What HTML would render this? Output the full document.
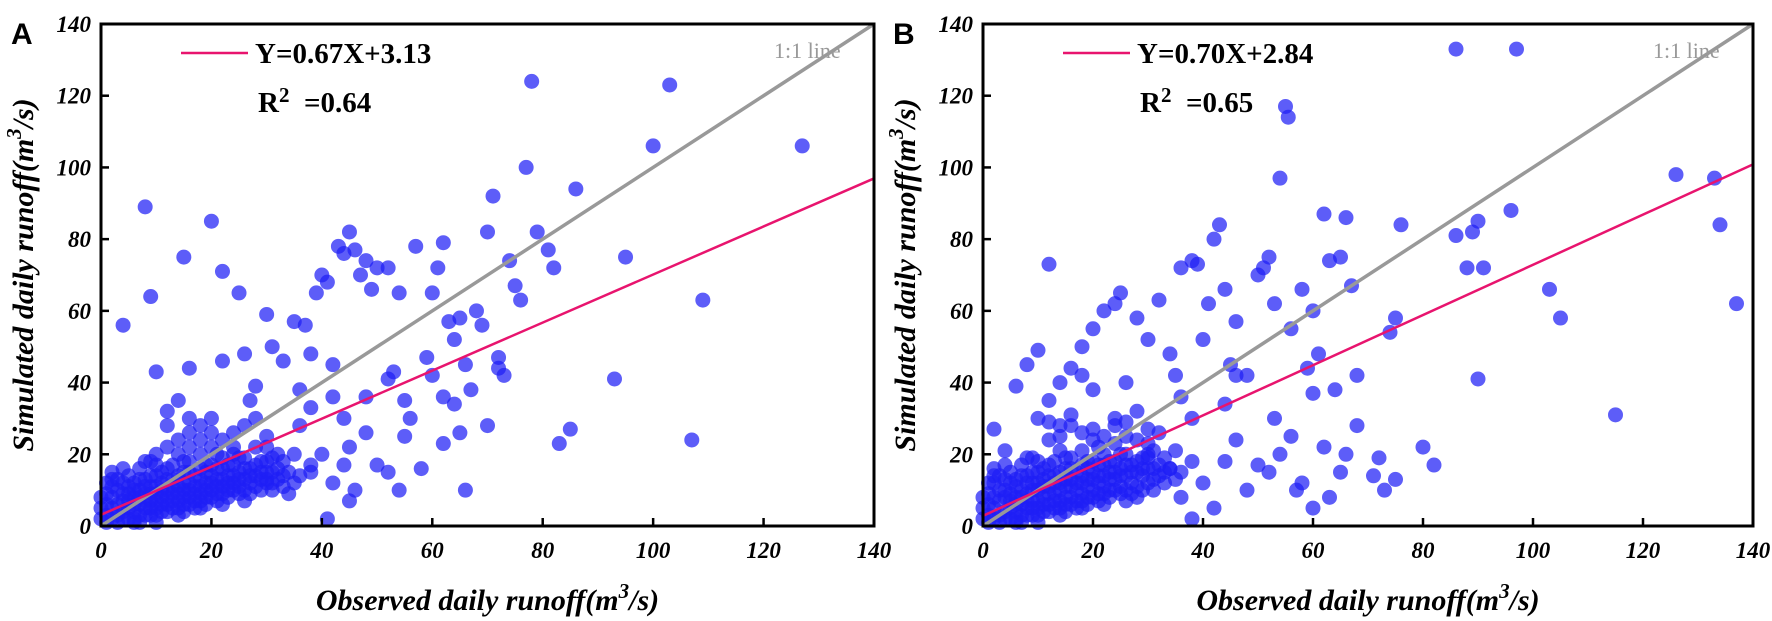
<!DOCTYPE html>
<html><head><meta charset="utf-8"><style>
body{margin:0;background:#fff;}
svg{display:block;font-family:"Liberation Serif",serif;}
</style></head><body>
<svg id="chart" width="1772" height="621" viewBox="0 0 1772 621"></svg>
<script>
const tickValues=[0,20,40,60,80,100,120,140];
const fitA={slope:0.67,intercept:3.13};
const fitB={slope:0.70,intercept:2.84};
const obsA=[4,8,9,10,15,16,20,22,25,26,28,30,31,33,35,37,38,39,40,41,42,43,44,45,46,47,48,49,50,52,53,54,55,57,60,61,62,63,64,65,66,68,69,70,71,72,73,74,75,76,77,78,79,81,82,83,85,86,93,95,100,103,107,109,127,66,70,62,60,58,55,52,50,48,45,42,40,38,36,34,32,46,44,64,65,52,48,44,38,36,42,45,24,27,22,18,20,14,12,16,10,30,41,54,62,67,72,56,59,
0,0,0,1,1,1,2,2,2,2,3,3,3,4,4,4,5,5,5,5,6,6,6,7,7,7,7,8,8,8,9,9,9,9,10,10,10,11,11,11,12,12,12,13,13,13,14,14,14,15,15,15,16,16,16,17,17,18,18,18,19,19,19,20,20,21,21,21,22,22,23,23,24,24,25,25,26,26,27,27,28,28,29,29,30,31,31,32,33,26,22,18,14,10,6,30,28,24,20,16,12,8,4,2];
const simA=[56,89,64,43,75,44,85,71,65,48,39,59,50,46,57,56,48,65,70,68,45,78,76,82,77,70,74,66,72,72,43,65,35,78,65,72,79,57,52,58,45,60,56,82,92,47,42,74,67,63,100,124,82,77,72,23,27,94,41,75,106,123,24,63,106,10,28,23,42,16,25,15,17,26,22,12,20,15,28,9,20,10,17,34,26,41,36,30,33,38,36,7,20,35,46,28,30,35,32,22,20,13,2,10,36,38,44,30,47,
2,5,8,3,6,9,2,5,8,11,3,6,10,4,7,12,2,5,9,14,4,8,12,3,6,10,16,5,9,13,3,7,11,18,5,9,14,4,8,12,6,10,16,5,9,13,7,11,20,6,10,15,8,12,18,7,11,9,13,24,8,12,17,10,14,9,13,20,11,16,10,14,12,17,11,15,13,19,12,16,14,22,13,18,15,12,19,16,14,7,6,5,3,1,1,25,30,26,22,26,22,18,16,15];
const obsB=[2,4,6,8,10,12,14,16,18,20,22,24,25,26,28,30,32,34,35,36,38,39,40,41,42,43,44,45,46,50,51,52,53,54,55,55.5,56,58,60,62,63,64,65,66,67,68,72,75,76,74,75,80,82,86,86,88,89,90,90,91,96,97,103,105,115,126,133,134,137,38,36,40,42,44,46,48,50,52,54,56,58,60,62,63,65,60,53,48,44,38,36,32,34,28,30,26,24,20,18,14,12,10,57,66,68,59,61,46,71,73,
0,0,0,1,1,1,2,2,2,2,3,3,3,4,4,4,5,5,5,5,6,6,6,7,7,7,7,8,8,8,9,9,9,9,10,10,10,11,11,11,12,12,12,13,13,13,14,14,14,15,15,15,16,16,16,17,17,18,18,18,19,19,19,20,20,21,21,21,22,22,23,23,24,24,25,25,26,26,27,27,28,28,29,29,30,31,31,32,33,26,22,18,14,10,6,30,28,24,20,16,12,8,4,2];
const simB=[27,21,39,45,49,73,40,44,50,55,60,62,65,40,58,52,63,48,42,72,74,73,52,62,80,84,66,45,57,70,72,75,62,97,117,114,55,66,60,87,74,38,75,86,67,42,19,58,84,54,13,22,17,133,81,72,82,85,41,72,88,133,66,58,31,98,97,84,62,2,8,12,5,18,24,10,17,15,20,25,12,37,22,8,15,5,30,42,34,30,36,26,16,8,20,25,30,38,42,28,35,30,10,20,28,44,48,42,14,10,
2,5,8,3,6,9,2,5,8,12,3,7,10,4,8,13,2,5,9,15,4,8,13,3,6,10,17,5,9,14,3,7,12,19,5,10,15,4,8,13,6,11,17,5,9,14,7,12,21,6,11,16,8,13,19,7,12,9,14,26,8,13,18,10,15,9,14,22,11,17,10,15,13,18,11,16,14,20,12,17,15,24,14,19,16,13,21,17,15,7,6,5,3,1,1,27,32,28,24,28,24,19,17,16];
const clusterObsA=[1,1,2,3,3,4,4,5,5,6,6,6,7,7,7,8,8,8,9,9,9,10,10,10,10,11,11,11,12,12,12,13,13,13,14,14,14,15,15,15,15,16,16,16,17,17,17,18,18,18,19,19,19,20,20,20,21,21,21,22,22,22,23,23,23,24,24,25,25,25,26,26,27,27,28,28,29,29,30,30,31,31,32,33,34,35,36,24,22,20,18,14,16,12,26,30,33,35,38];
const clusterSimA=[1,12,13,1,13,2,9,7,11,2,6,10,1,8,13,3,7,11,5,9,14,3,7,11,17,6,10,15,4,8,13,7,11,17,5,9,14,4,8,12,18,6,10,15,5,9,14,7,11,16,6,10,15,8,12,17,7,11,16,9,13,19,8,12,17,10,14,9,13,19,10,16,9,14,11,17,10,15,12,18,10,15,13,11,15,12,14,22,24,26,20,24,30,28,28,22,18,20,17];
const clusterObsB=[1,1,2,3,3,4,4,5,5,6,6,6,7,7,7,8,8,8,9,9,9,10,10,10,10,11,11,11,12,12,12,13,13,13,14,14,14,15,15,15,15,16,16,16,17,17,17,18,18,18,19,19,19,20,20,20,21,21,21,22,22,22,23,23,23,24,24,25,25,25,26,26,27,27,28,28,29,29,30,30,31,31,32,33,34,35,36,24,22,20,18,14,16,12,26,30,33,35,38];
const clusterSimB=[1,12,14,1,14,2,10,7,12,2,6,11,1,8,14,3,7,12,5,10,15,3,7,12,18,6,11,16,4,9,14,7,12,18,5,10,15,4,8,13,19,6,11,16,5,10,15,7,12,17,6,11,16,8,13,18,7,12,17,9,14,20,8,13,18,10,15,9,14,20,10,17,9,15,11,18,10,16,12,19,10,16,14,12,16,13,15,23,25,27,21,25,31,29,29,23,19,21,18];

const NS="http://www.w3.org/2000/svg";
const svg=document.getElementById('chart');
function mk(tag,attrs,parent,text){const e=document.createElementNS(NS,tag);for(const k in attrs)e.setAttribute(k,attrs[k]);if(text!==undefined)e.textContent=text;(parent||svg).appendChild(e);return e;}

function panel(key,L,R,obs,sim,cObs,cSim,fit,label,eq,r2){
  const T=24,B=526,max=140;
  const sx=v=>L+(R-L)*v/max, sy=v=>B-(B-T)*v/max;
  const g=mk('g',{});
  
  
  const pts=mk('g',{},g);
  
  
  const allX=obs.concat(cObs), allY=sim.concat(cSim);
  for(let i=0;i<allX.length;i++){
    const c=mk('circle',{cx:sx(allX[i]),cy:sy(allY[i]),r:7.5,fill:'rgba(30,30,245,0.72)'},pts);
    
    
  }
  const one=mk('line',{x1:sx(0),y1:sy(0),x2:sx(140),y2:sy(140),stroke:'#999',"stroke-width":3.5},g);
  
  
  const fl=mk('line',{x1:sx(0),y1:sy(fit.intercept),x2:sx(140),y2:sy(fit.slope*140+fit.intercept),stroke:'#e8146e',"stroke-width":2.5},g);
  
  
  const fr=mk('rect',{x:L,y:T,width:R-L,height:B-T,fill:'none',stroke:'#000',"stroke-width":3},g);
  
  
  tickValues.forEach(v=>{
    mk('line',{x1:sx(v),y1:B,x2:sx(v),y2:B-8,stroke:'#000',"stroke-width":2.5},g);
    mk('line',{x1:L,y1:sy(v),x2:L+8,y2:sy(v),stroke:'#000',"stroke-width":2.5},g);
    const xt=mk('text',{x:sx(v),y:B+32,"text-anchor":"middle","font-size":23,"font-weight":"bold","font-style":"italic"},g,String(v));
    
    
    const yt=mk('text',{x:L-10,y:sy(v)+8,"text-anchor":"end","font-size":23,"font-weight":"bold","font-style":"italic"},g,String(v));
    
    
  });
  const lg=mk('line',{x1:L+80,y1:53,x2:L+147,y2:53,stroke:'#e8146e',"stroke-width":2.5},g);
  
  
  const et=mk('text',{x:L+154,y:63,"font-size":29,"font-weight":"bold"},g,eq);
  
  
  const rt=mk('text',{x:L+157,y:112,"font-size":29,"font-weight":"bold"},g);
  
  
  mk('tspan',{},rt,'R');mk('tspan',{dy:-10,"font-size":21},rt,'2');mk('tspan',{dy:10},rt,'\u00a0\u00a0=' + r2);
  const ot=mk('text',{x:R-100,y:58,"font-size":22,fill:'#999'},g,'1:1 line');
  
  
  const pl=mk('text',{x:L-90,y:44,"font-size":30,"font-weight":"bold","font-family":"Liberation Sans, sans-serif"},g,label);
  
  
  const yl=mk('text',{transform:`translate(${L-68},${(T+B)/2}) rotate(-90)`,"text-anchor":"middle","font-size":30,"font-weight":"bold","font-style":"italic"},g);
  
  
  mk('tspan',{},yl,'Simulated daily runoff(m');mk('tspan',{dy:-12,"font-size":21},yl,'3');mk('tspan',{dy:12},yl,'/s)');
  const xl=mk('text',{x:(L+R)/2,y:610,"text-anchor":"middle","font-size":30,"font-weight":"bold","font-style":"italic"},g);
  
  
  mk('tspan',{},xl,'Observed daily runoff(m');mk('tspan',{dy:-12,"font-size":21},xl,'3');mk('tspan',{dy:12},xl,'/s)');
}
panel('a',101,874,obsA,simA,clusterObsA,clusterSimA,fitA,'A','Y=0.67X+3.13','0.64');
panel('b',983,1753,obsB,simB,clusterObsB,clusterSimB,fitB,'B','Y=0.70X+2.84','0.65');
</script>
</body></html>
